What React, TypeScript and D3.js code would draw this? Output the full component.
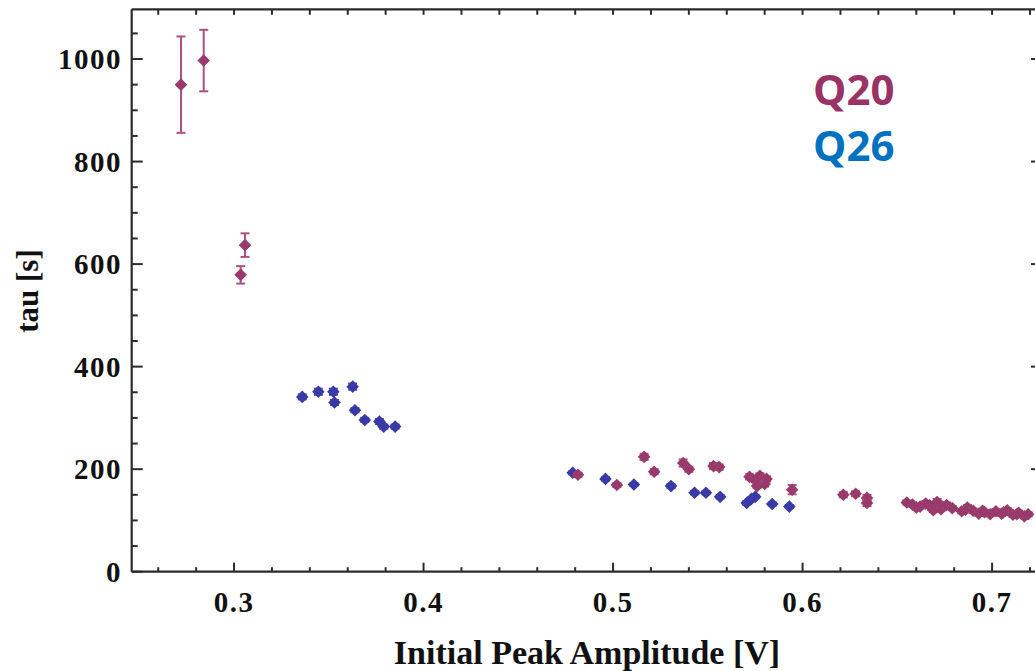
import React from "react";
import * as d3 from "d3";

// Q20 series: amplitude V, tau s, error s
const q20X = [0.272, 0.284, 0.3035, 0.3058, 0.4815, 0.502, 0.5164, 0.5217, 0.537, 0.540, 0.553, 0.556, 0.572, 0.575, 0.5775, 0.580, 0.576, 0.581, 0.5945, 0.6215, 0.628, 0.634, 0.634, 0.655, 0.658, 0.660, 0.662, 0.665, 0.667, 0.668, 0.671, 0.673, 0.674, 0.676, 0.679, 0.669, 0.684, 0.686, 0.687, 0.690, 0.693, 0.695, 0.696, 0.699, 0.702, 0.705, 0.706, 0.708, 0.711, 0.713, 0.714, 0.717, 0.719];
const q20Y = [950, 997, 579, 637, 189, 169, 224, 195, 212, 200, 206, 204, 185, 179, 187, 171, 167, 181, 160, 150, 152, 144, 134, 135, 131, 125, 127, 133, 130, 126, 136, 122, 127, 130, 124, 120, 118, 121, 125, 119, 113, 119, 116, 112, 118, 113, 116, 120, 111, 112, 115, 108, 112];
const q20Err = [94, 60, 17, 23, 4, 4, 6, 5, 7, 5, 6, 5, 5, 5, 5, 5, 4, 5, 9, 5, 5, 6, 6, 4, 4, 4, 4, 5, 4, 4, 6, 4, 4, 5, 4, 4, 4, 4, 5, 4, 4, 4, 4, 4, 4, 4, 4, 4, 4, 4, 4, 4, 4];

// Q26 series
const q26X = [0.336, 0.3445, 0.3524, 0.353, 0.3626, 0.3638, 0.369, 0.3767, 0.379, 0.385, 0.4787, 0.496, 0.511, 0.5306, 0.543, 0.549, 0.5565, 0.5705, 0.573, 0.575, 0.584, 0.593];
const q26Y = [341, 351, 351, 330, 361, 315, 296, 293, 283, 283, 193, 181, 170, 167, 154, 154, 146, 134, 142, 146, 132, 127];
const q26Err = [5, 6, 6, 5, 6, 4, 4, 5, 4, 4, 3, 3, 3, 4, 3, 3, 3, 3, 3, 3, 3, 3];

const xMajor = [0.3, 0.4, 0.5, 0.6, 0.7];
const yMajor = [0, 200, 400, 600, 800, 1000];
const legendLabels = ["Q20", "Q26"];

const W = 1035;
const H = 671;
const L = 131.7, R = 1037, T = 9.3, B = 571.7;

export default function App() {
  const x = d3.scaleLinear().domain([0.246, 0.7237]).range([L, R]);
  const y = d3.scaleLinear().domain([0, 1097]).range([B, T]);

  const xMinor = d3.range(0.24, 0.73, 0.02).filter((v) => x(v) > L + 1 && x(v) < R - 1);
  const yMinor = d3.range(0, 1100, 50).filter((v) => y(v) > T + 1);

  const diamond = (cx: number, cy: number, r: number) =>
    `M${cx},${cy - r}L${cx + r},${cy}L${cx},${cy + r}L${cx - r},${cy}Z`;

  const q20 = q20X.map((v, i) => ({ x: v, y: q20Y[i], e: q20Err[i] }));
  const q26 = q26X.map((v, i) => ({ x: v, y: q26Y[i], e: q26Err[i] }));

  const axisColor = "#2b2b2b";
  const serif = "'Liberation Serif', 'Times New Roman', serif";

  const renderSeries = (data: { x: number; y: number; e: number }[], fill: string, errColor: string) => (
    <g>
      {data.map((d, i) => {
        const cx = x(d.x);
        const y1 = y(d.y + d.e);
        const y2 = y(d.y - d.e);
        return (
          <g key={i}>
            <line x1={cx} x2={cx} y1={y1} y2={y2} stroke={errColor} strokeWidth={2} />
            <line x1={cx - 4.5} x2={cx + 4.5} y1={y1} y2={y1} stroke={errColor} strokeWidth={2} />
            <line x1={cx - 4.5} x2={cx + 4.5} y1={y2} y2={y2} stroke={errColor} strokeWidth={2} />
            <path d={diamond(cx, y(d.y), 6.3)} fill={fill} />
          </g>
        );
      })}
    </g>
  );

  return (
    <svg width={W} height={H} style={{ position: "absolute", left: 0, top: 0, background: "#fff" }}>
      <rect x={0} y={0} width={W} height={H} fill="#fff" />
      {/* frame */}
      <line x1={L} x2={R} y1={B} y2={B} stroke={axisColor} strokeWidth={2.2} />
      <line x1={L} x2={L} y1={T} y2={B} stroke={axisColor} strokeWidth={2.2} />
      <line x1={L} x2={R} y1={T} y2={T} stroke={axisColor} strokeWidth={2.2} />
      <line x1={R} x2={R} y1={T} y2={B} stroke={axisColor} strokeWidth={2.2} />

      {/* bottom ticks */}
      {xMinor.map((v, i) => {
        const isMajor = xMajor.some((m) => Math.abs(m - v) < 1e-6);
        return (
          <line key={"bx" + i} x1={x(v)} x2={x(v)} y1={B} y2={B - (isMajor ? 9 : 4.5)} stroke={axisColor} strokeWidth={2} />
        );
      })}
      {/* top ticks */}
      {xMinor.map((v, i) => (
        <line key={"tx" + i} x1={x(v)} x2={x(v)} y1={T} y2={T + 5.5} stroke={axisColor} strokeWidth={2} />
      ))}
      {/* left ticks */}
      {yMinor.map((v, i) => {
        const isMajor = yMajor.includes(v);
        return (
          <line key={"ly" + i} x1={L} x2={L + (isMajor ? 11 : 6)} y1={y(v)} y2={y(v)} stroke={axisColor} strokeWidth={2} />
        );
      })}
      {/* right ticks */}
      {yMajor.filter((v) => v > 0).map((v, i) => (
        <line key={"ry" + i} x1={R} x2={R - 6} y1={y(v)} y2={y(v)} stroke={axisColor} strokeWidth={2} />
      ))}

      {/* x tick labels */}
      {xMajor.map((v, i) => (
        <text key={"xl" + i} x={x(v)} y={612} textAnchor="middle" fontFamily={serif} fontWeight="bold" fontSize={29} letterSpacing={1.5} fill="#111">
          {v.toFixed(1)}
        </text>
      ))}
      {/* y tick labels */}
      {yMajor.map((v, i) => (
        <text key={"yl" + i} x={122} y={y(v) + 10} textAnchor="end" fontFamily={serif} fontWeight="bold" fontSize={29} letterSpacing={1.5} fill="#111">
          {v}
        </text>
      ))}

      {/* axis titles */}
      <text x={587} y={664} textAnchor="middle" fontFamily={serif} fontWeight="bold" fontSize={34} fill="#111">
        Initial Peak Amplitude [V]
      </text>
      <text transform={`translate(38,${291}) rotate(-90)`} textAnchor="middle" fontFamily={serif} fontWeight="bold" fontSize={31} fill="#111">
        tau [s]
      </text>

      {/* data */}
      {renderSeries(q26, "#3a3aa6", "#4a4ab0")}
      {renderSeries(q20, "#983a6b", "#b0507f")}

      {/* legend */}
      <text x={813} y={105} fontFamily="'Open Sans', sans-serif" fontWeight="bold" fontSize={42} fill="#993366">
        {legendLabels[0]}
      </text>
      <text x={813} y={161} fontFamily="'Open Sans', sans-serif" fontWeight="bold" fontSize={42} fill="#0070c0">
        {legendLabels[1]}
      </text>
    </svg>
  );
}
